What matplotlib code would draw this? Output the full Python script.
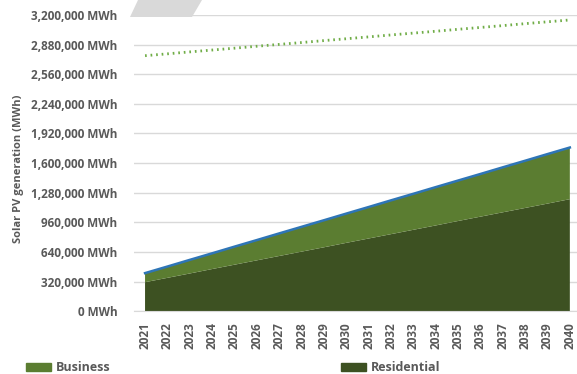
import matplotlib
matplotlib.use("Agg")
import matplotlib.pyplot as plt
from matplotlib.patches import Polygon, Patch
from matplotlib.ticker import FuncFormatter

years = list(range(2021, 2041))
residential = [313, 360, 407, 455, 502, 549, 596, 643, 690, 738,
               785, 832, 879, 926, 974, 1021, 1068, 1115, 1162, 1210]
business = [98, 122, 147, 170, 195, 219, 244, 268, 292, 316,
            340, 365, 389, 414, 437, 461, 486, 510, 535, 558]
potential = [2760, 2780, 2801, 2821, 2841, 2862, 2882, 2902, 2923, 2943,
             2963, 2984, 3004, 3024, 3045, 3065, 3085, 3106, 3126, 3146]
yticks = [0, 320, 640, 960, 1280, 1600, 1920, 2240, 2560, 2880, 3200]

res = [v * 1000 for v in residential]
bus = [v * 1000 for v in business]
total = [r + b for r, b in zip(res, bus)]
pot = [v * 1000 for v in potential]

plt.rcParams['font.family'] = ['Open Sans', 'DejaVu Sans']
grey = '#595959'

fig = plt.figure(figsize=(5.77, 3.74), dpi=100)
ax = fig.add_axes([0.232, 0.168, 0.768, 0.792])

ax.stackplot(years, res, bus, colors=['#3d5122', '#5b7d31'], linewidth=0)
ax.plot(years, total, color='#2e75b6', lw=1.8)
ax.plot(years, pot, color='#70ad47', lw=2, linestyle=(0, (0.6, 1.4)))

ax.set_xlim(2020.5, 2040.32)
ax.set_ylim(0, 3200000)
ax.set_yticks([v * 1000 for v in yticks])
ax.yaxis.set_major_formatter(FuncFormatter(lambda v, p: f"{int(v):,} MWh"))
ax.set_xticks(years)
ax.set_xticklabels([str(y) for y in years], rotation=90)
ax.grid(axis='y', color='#d9d9d9', lw=1)
ax.set_axisbelow(True)
for s in ['top', 'right', 'left']:
    ax.spines[s].set_visible(False)
ax.spines['bottom'].set_color('#d9d9d9')
ax.tick_params(length=0, colors=grey)
ax.tick_params(axis='y', labelsize=8.5, pad=12)
ax.tick_params(axis='x', labelsize=8.5, pad=8)
for lab in ax.get_xticklabels() + ax.get_yticklabels():
    lab.set_fontweight('bold')

fig.text(0.032, 0.55, 'Solar PV generation (MWh)', rotation=90, color=grey,
         fontsize=8, fontweight='bold', ha='center', va='center')

# grey decoration at the top
fig.patches.append(Polygon([[138 / 577, 1.0], [202 / 577, 1.0], [192 / 577, 1 - 17 / 374], [130 / 577, 1 - 17 / 374]],
                           closed=True, transform=fig.transFigure,
                           facecolor='#d9d9d9', edgecolor='none'))

handles = [Patch(color='#5b7d31'), Patch(color='#3d5122')]
labels = ['Business', 'Residential']
fig.legend(handles, labels, loc='lower left', bbox_to_anchor=(0.028, -0.028),
           ncol=2, frameon=False, columnspacing=18.5, handlelength=2.0,
           handleheight=0.7, handletextpad=0.35, borderpad=0.3,
           prop={'weight': 'bold', 'size': 9}, labelcolor=grey)

fig.savefig('out.png', dpi=100)
